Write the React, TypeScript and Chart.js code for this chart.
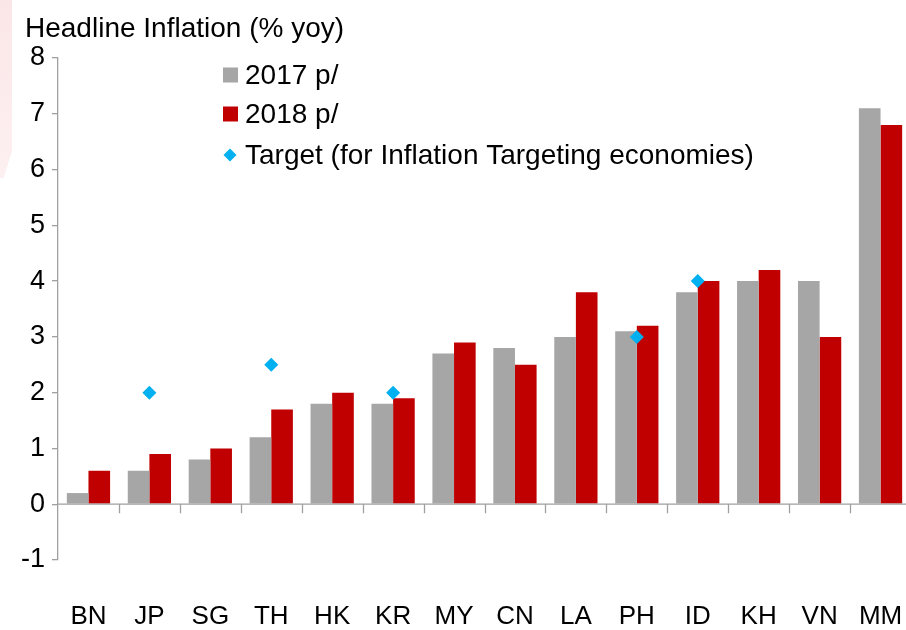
import React, { useEffect, useRef } from "react";
import { Chart, registerables } from "chart.js";

Chart.register(...registerables);

const categories = ["BN", "JP", "SG", "TH", "HK", "KR", "MY", "CN", "LA", "PH", "ID", "KH", "VN", "MM"];
const values2017 = [0.2, 0.6, 0.8, 1.2, 1.8, 1.8, 2.7, 2.8, 3.0, 3.1, 3.8, 4.0, 4.0, 7.1];
const values2018 = [0.6, 0.9, 1.0, 1.7, 2.0, 1.9, 2.9, 2.5, 3.8, 3.2, 4.0, 4.2, 3.0, 6.8];
const targets: (number | null)[] = [null, 2, null, 2.5, null, 2, null, null, null, 3, 4, null, null, null];
const yTicks = [-1, 0, 1, 2, 3, 4, 5, 6, 7, 8];
const titleText = "Headline Inflation (% yoy)";
const legendLabels = ["2017 p/", "2018 p/", "Target (for Inflation Targeting economies)"];

const GRAY = "#A6A6A6";
const RED = "#C00000";
const CYAN = "#00B0F0";
const AXIS = "#A0A0A0";
const FONT = "'Liberation Sans', Arial, sans-serif";

const decorPlugin = {
  id: "decor",
  afterDatasetsDraw(chart: any) {
    const { ctx, chartArea, scales } = chart;
    const y = scales.y;
    const y0 = y.getPixelForValue(0);
    ctx.save();
    ctx.strokeStyle = AXIS;
    ctx.lineWidth = 1.3;
    ctx.beginPath();
    ctx.moveTo(chartArea.left, y0);
    ctx.lineTo(chartArea.right, y0);
    const n = categories.length;
    const step = (chartArea.right - chartArea.left) / n;
    for (let i = 1; i <= n; i++) {
      const px = Math.round(chartArea.left + step * i) + 0.5;
      ctx.moveTo(px, y0);
      ctx.lineTo(px, y0 + 9);
    }
    ctx.stroke();
    ctx.restore();
  },
  afterDraw(chart: any) {
    const { ctx } = chart;
    ctx.save();
    ctx.fillStyle = "#000";
    ctx.font = `28px ${FONT}`;
    ctx.textBaseline = "middle";
    ctx.textAlign = "left";
    ctx.fillText(titleText, 25, 29);

    // legend
    const lx = 223;
    const tx = 245;
    const ys = [75, 114, 155];
    ctx.fillStyle = GRAY;
    ctx.fillRect(lx, ys[0] - 7.5, 15, 15);
    ctx.fillStyle = RED;
    ctx.fillRect(lx, ys[1] - 7.5, 15, 15);
    ctx.fillStyle = CYAN;
    ctx.beginPath();
    const cx = 230, cy = ys[2], r = 6.5;
    ctx.moveTo(cx, cy - r);
    ctx.lineTo(cx + r, cy);
    ctx.lineTo(cx, cy + r);
    ctx.lineTo(cx - r, cy);
    ctx.closePath();
    ctx.fill();
    ctx.fillStyle = "#000";
    ctx.font = `28px ${FONT}`;
    legendLabels.forEach((t, i) => ctx.fillText(t, tx, ys[i] + 1));
    ctx.restore();
  },
};

export default function App() {
  const ref = useRef<HTMLCanvasElement | null>(null);
  useEffect(() => {
    if (!ref.current) return;
    const chart = new Chart(ref.current, {
      type: "bar",
      data: {
        labels: categories,
        datasets: [
          {
            type: "bar",
            label: legendLabels[0],
            data: values2017,
            backgroundColor: GRAY,
            categoryPercentage: 0.71,
            barPercentage: 1,
            order: 2,
          },
          {
            type: "bar",
            label: legendLabels[1],
            data: values2018,
            backgroundColor: RED,
            categoryPercentage: 0.71,
            barPercentage: 1,
            order: 2,
          },
          {
            type: "line",
            label: legendLabels[2],
            data: targets,
            showLine: false,
            pointStyle: "rectRot",
            pointRadius: 7,
            pointBackgroundColor: CYAN,
            pointBorderColor: CYAN,
            pointBorderWidth: 0,
            order: 1,
          } as any,
        ],
      },
      options: {
        animation: false,
        responsive: false,
        maintainAspectRatio: false,
        layout: { padding: { top: 58, right: 2, left: 0, bottom: 0 } },
        plugins: {
          legend: { display: false },
          tooltip: { enabled: false },
          title: { display: false },
        },
        scales: {
          x: {
            type: "category",
            grid: { display: false, drawTicks: false, tickLength: 0 },
            border: { display: false },
            ticks: {
              padding: 41,
              color: "#000",
              font: { family: FONT, size: 26 },
              maxRotation: 0,
              autoSkip: false,
            },
            afterFit(s: any) {
              s.height = 70;
              s.paddingLeft = 0;
              s.paddingRight = 0;
            },
          },
          y: {
            min: -1,
            max: 8,
            afterBuildTicks(s: any) {
              s.ticks = yTicks.map((v) => ({ value: v }));
            },
            grid: {
              drawOnChartArea: false,
              drawTicks: true,
              tickLength: 6,
              color: AXIS,
              lineWidth: 1.3,
            },
            border: { display: true, color: AXIS, width: 1.3 },
            ticks: {
              padding: 7,
              color: "#000",
              font: { family: FONT, size: 27 },
            },
            afterFit(s: any) {
              s.width = 58;
            },
          },
        },
      },
      plugins: [decorPlugin],
    } as any);
    return () => chart.destroy();
  }, []);

  return (
    <div
      style={{
        position: "absolute",
        left: 0,
        top: 0,
        width: 906,
        height: 630,
        overflow: "hidden",
        background: "#fff",
      }}
    >
      <div
        style={{
          position: "absolute",
          left: 0,
          top: 0,
          width: 12,
          height: 178,
          background: "linear-gradient(#fbe6e7, #fdf0f1)",
          clipPath: "polygon(0 0, 100% 0, 100% 85%, 30% 100%, 0 100%)",
        }}
      />
      <canvas ref={ref} width={918} height={630} style={{ position: "absolute", left: 0, top: 0 }} />
    </div>
  );
}
